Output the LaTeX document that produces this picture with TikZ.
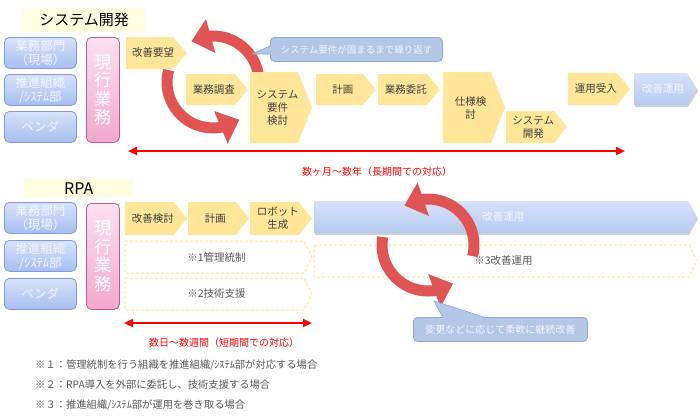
\documentclass[tikz,border=0pt]{standalone}
\usepackage{fontspec}
\setmainfont{Noto Sans CJK JP}
\usetikzlibrary{arrows.meta,bending}
\definecolor{chevy}{RGB}{255,230,153}
\definecolor{titlebg}{RGB}{255,253,226}
\definecolor{lbtop}{RGB}{214,226,250}
\definecolor{lbbot}{RGB}{168,190,240}
\definecolor{lbdraw}{RGB}{128,156,222}
\definecolor{pktop}{RGB}{251,226,239}
\definecolor{pkbot}{RGB}{242,168,206}
\definecolor{pkdraw}{RGB}{196,88,146}
\definecolor{btop}{RGB}{214,226,251}
\definecolor{bbot}{RGB}{182,202,240}
\definecolor{callfill}{RGB}{180,199,231}
\definecolor{calldraw}{RGB}{143,170,220}
\definecolor{ringred}{RGB}{224,84,84}
\definecolor{txt}{RGB}{64,64,64}
\definecolor{note}{RGB}{89,89,89}
\definecolor{lighttxt}{RGB}{242,245,255}

\newcommand\chevshape[6]{\path[#6] (#1,-#2) -- ({#3-#5},-#2) -- (#3,{-(#2+#4)/2}) -- ({#3-#5},-#4) -- (#1,-#4) -- cycle;}
\newcommand\chev[9]{\chevshape{#2}{#3}{#4}{#5}{#6}{#7}\node[ctext,#8] (#1) at ({(#2+#4)/2-#6/4},{-(#3+#5)/2}) {#9};}

\tikzset{
  ychev/.style={fill=chevy},
  bchev/.style={top color=btop, bottom color=bbot},
  shadowchev/.style={fill=black!18, xshift=1pt, yshift=-2pt},
  dchev/.style={draw=chevy, dashed, dash pattern=on 3pt off 2pt, line width=1pt, fill=white},
  ctext/.style={font=\fontsize{10.5}{13}\selectfont, text=txt, align=center, inner sep=0pt},
  btext/.style={text=lighttxt},
  dtext/.style={text=note},
  lbox/.style={draw=lbdraw, line width=0.8pt, rounded corners=5pt, top color=lbtop, bottom color=lbbot,
    text=lighttxt, font=\fontsize{12.5}{14}\selectfont, align=center, minimum width=72pt,
    minimum height=31pt, inner sep=0pt, anchor=north west},
  pbox/.style={draw=pkdraw, line width=0.8pt, rounded corners=5pt, top color=pktop, bottom color=pkbot,
    text=white, font=\fontsize{17}{18.5}\selectfont, align=center, minimum width=33pt,
    inner sep=0pt, anchor=north west},
  titlebox/.style={fill=titlebg, inner sep=0pt, anchor=north west, text=black},
  callbox/.style={fill=callfill, draw=calldraw, line width=0.8pt, rounded corners=4pt, text=lighttxt,
    inner sep=0pt, anchor=north west},
  ringarrow/.style={draw=ringred, line width=11pt, -{Triangle[width=34pt,length=20pt,flex]}},
  spanarrow/.style={draw=red, line width=2.2pt, {Triangle[width=8pt,length=9pt]}-{Triangle[width=8pt,length=9pt]}},
  redlabel/.style={text=red, font=\fontsize{10}{12}\selectfont, inner sep=0pt},
  notetext/.style={text=note, font=\fontsize{10.3}{12}\selectfont, inner sep=0pt, anchor=west}
}

\begin{document}
\begin{tikzpicture}[x=1pt,y=1pt]
\useasboundingbox (0,0) rectangle (700,-418);
\fill[white] (0,0) rectangle (700,-418);

% ---------- System development ----------
\node[titlebox, minimum width=122pt, minimum height=24pt, font=\fontsize{15}{17}\selectfont] (t1) at (23,-8) {システム開発};

\node[lbox] (a1) at (4,-37) {業務部門\\（現場）};
\node[lbox] (a2) at (4,-74) {推進組織\\/ｼｽﾃﾑ部};
\node[lbox] (a3) at (4,-111) {ベンダ};
\node[pbox, minimum height=105pt] (g1) at (86,-37) {現\\行\\業\\務};

% circular arrows (behind chevrons)
\coordinate (r1) at (213,-82);
\draw[ringarrow] ([shift={(0:46pt)}]r1) arc[start angle=0, end angle=118, radius=46pt];
\draw[ringarrow] ([shift={(165:46pt)}]r1) arc[start angle=165, end angle=305, radius=46pt];

\chev{c1}{126}{37}{187}{69}{14}{ychev}{}{改善要望}
\chev{c2}{186}{74}{248}{105}{13}{ychev}{}{業務調査}
\chev{c3}{250}{72}{312}{143}{14}{ychev}{}{システム\\要件\\検討}
\chev{c4}{316}{74}{376}{105}{13}{ychev}{}{計画}
\chev{c5}{378}{74}{440}{105}{13}{ychev}{}{業務委託}
\chev{c6}{443}{72}{505}{143}{14}{ychev}{}{仕様検\\討}
\chev{c7}{506}{111}{567}{143}{13}{ychev}{}{システム\\開発}
\chev{c8}{568}{73}{630}{105}{13}{ychev}{}{運用受入}
\chevshape{634}{73}{697}{105}{10}{shadowchev}
\chev{c9}{634}{73}{697}{105}{10}{bchev}{btext}{改善運用}

% callout top
\node[callbox, minimum width=172pt, minimum height=24pt, font=\fontsize{9.5}{11}\selectfont] (k1) at (270,-37) {システム要件が固まるまで繰り返す};
\coordinate (k1tip) at (252,-54);
\fill[callfill] (271,-46) -- (k1tip) -- (271,-54) -- cycle;
\draw[calldraw, line width=0.8pt, line join=round] (270.4,-46) -- (k1tip) -- (270.4,-54);

% span arrow top
\coordinate (s1) at (128,-151);
\coordinate (s2) at (625,-151);
\draw[spanarrow] (s1) -- (s2);
\node[redlabel] (l1) at (377,-172) {数ヶ月～数年（長期間での対応）};

% ---------- RPA ----------
\node[titlebox, minimum width=109pt, minimum height=18pt, font=\fontsize{16}{18}\selectfont] (t2) at (24,-179) {RPA};

\node[lbox] (b1) at (4,-202) {業務部門\\（現場）};
\node[lbox] (b2) at (4,-240) {推進組織\\/ｼｽﾃﾑ部};
\node[lbox] (b3) at (4,-278) {ベンダ};
\node[pbox, minimum height=106pt] (g2) at (86,-203) {現\\行\\業\\務};

\chev{d1}{125}{202}{187}{235}{13}{ychev}{}{改善検討}
\chev{d2}{188}{202}{249}{235}{13}{ychev}{}{計画}
\chev{d3}{250}{202}{312}{235}{13}{ychev}{}{ロボット\\生成}
\chevshape{314}{201}{697}{233}{9}{shadowchev}
\chev{d4}{314}{201}{697}{233}{9}{bchev}{btext}{改善運用}

\chev{e1}{125}{241}{312}{273}{8}{dchev}{dtext}{※1管理統制}
\chev{e2}{125}{278}{312}{310}{8}{dchev}{dtext}{※2技術支援}
\chev{e3}{314}{245}{697}{277}{8}{dchev}{dtext}{※3改善運用}

% circular arrows bottom (on top)
\coordinate (r2) at (428,-245);
\draw[ringarrow] ([shift={(-14:46pt)}]r2) arc[start angle=-14, end angle=121, radius=46pt];
\draw[ringarrow] ([shift={(170:46pt)}]r2) arc[start angle=170, end angle=303, radius=46pt];

% callout bottom
\node[callbox, minimum width=174pt, minimum height=24pt, font=\fontsize{10}{12}\selectfont] (k2) at (413,-317) {変更などに応じて柔軟に継続改善};
\coordinate (k2tip) at (434,-301);
\fill[callfill] (443,-318) -- (k2tip) -- (485,-318) -- cycle;
\draw[calldraw, line width=0.8pt, line join=round] (443,-317.4) -- (k2tip) -- (485,-317.4);

% span arrow bottom
\coordinate (s3) at (124,-323);
\coordinate (s4) at (312,-323);
\draw[spanarrow] (s3) -- (s4);
\node[redlabel] (l2) at (224,-343) {数日～数週間（短期間での対応）};

% notes
\node[notetext] (n1) at (35,-365) {※１：管理統制を行う組織を推進組織/ｼｽﾃﾑ部が対応する場合};
\node[notetext] (n2) at (35,-385) {※２：RPA導入を外部に委託し、技術支援する場合};
\node[notetext] (n3) at (35,-405) {※３：推進組織/ｼｽﾃﾑ部が運用を巻き取る場合};
\end{tikzpicture}
\end{document}
